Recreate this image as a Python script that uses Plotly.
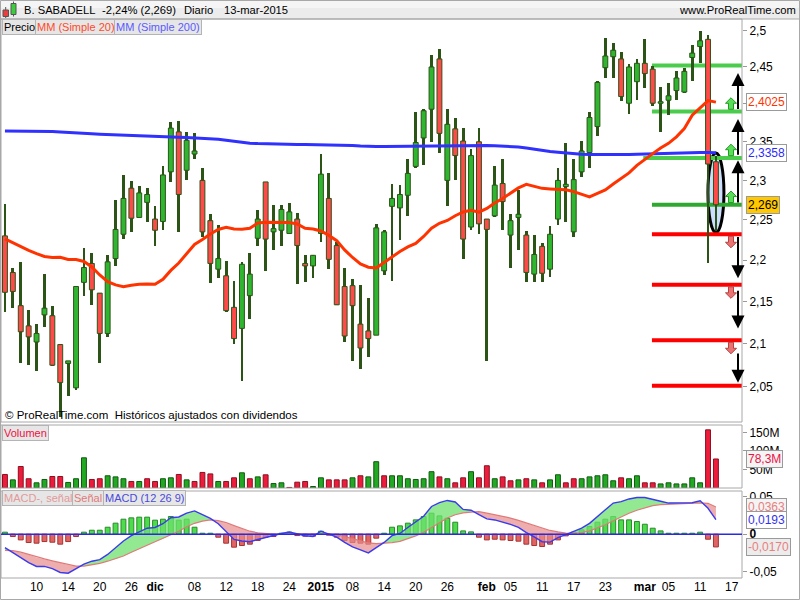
import math
import plotly.graph_objects as go

FONT = "Liberation Sans, Arial, sans-serif"

# ---------------- data ----------------
n_bars = 91
x_idx = list(range(n_bars))          # trading days 4-nov-2014 .. 13-mar-2015
tick_pos = [4, 8, 12, 16, 19, 24, 28, 32, 36, 40, 44, 48, 52, 56, 61, 64, 68, 72, 76, 81, 84, 88, 92]
tick_text = ["10", "14", "20", "26", "<b>dic</b>", "08", "12", "18", "24", "<b>2015</b>", "08", "14",
             "20", "26", "<b>feb</b>", "05", "11", "17", "23", "<b>mar</b>", "05", "11", "17"]

opens = [
    2.230, 2.185, 2.145, 2.121, 2.102, 2.134, 2.133, 2.099, 2.077, 2.049,
    2.173, 2.196, 2.160, 2.112, 2.202, 2.232, 2.290, 2.253, 2.272, 2.251,
    2.248, 2.311, 2.363, 2.313, 2.334, 2.300, 2.249, 2.189, 2.181, 2.143,
    2.118, 2.157, 2.227, 2.298, 2.235, 2.237, 2.233, 2.251, 2.196, 2.193,
    2.233, 2.277, 2.218, 2.168, 2.169, 2.123, 2.115, 2.110, 2.187, 2.267,
    2.265, 2.281, 2.318, 2.355, 2.393, 2.461, 2.300, 2.367, 2.351, 2.241,
    2.350, 2.251, 2.255, 2.296, 2.231, 2.253, 2.231, 2.183, 2.217, 2.189,
    2.251, 2.292, 2.235, 2.311, 2.336, 2.370, 2.449, 2.464, 2.461, 2.401,
    2.430, 2.455, 2.447, 2.401, 2.405, 2.418, 2.416, 2.463, 2.478, 2.488,
    2.324]
highs = [
    2.270, 2.190, 2.198, 2.140, 2.123, 2.183, 2.145, 2.100, 2.080, 2.169,
    2.215, 2.209, 2.160, 2.206, 2.275, 2.307, 2.299, 2.293, 2.290, 2.267,
    2.319, 2.376, 2.377, 2.363, 2.361, 2.316, 2.257, 2.243, 2.199, 2.175,
    2.198, 2.209, 2.262, 2.298, 2.269, 2.269, 2.271, 2.259, 2.206, 2.206,
    2.334, 2.309, 2.223, 2.190, 2.177, 2.170, 2.154, 2.245, 2.237, 2.296,
    2.294, 2.328, 2.389, 2.393, 2.466, 2.475, 2.393, 2.382, 2.368, 2.340,
    2.368, 2.251, 2.318, 2.327, 2.257, 2.288, 2.236, 2.231, 2.221, 2.242,
    2.316, 2.348, 2.327, 2.351, 2.389, 2.431, 2.490, 2.483, 2.470, 2.454,
    2.461, 2.488, 2.451, 2.423, 2.428, 2.444, 2.448, 2.480, 2.499, 2.494,
    2.332]
lows = [
    2.137, 2.142, 2.077, 2.075, 2.068, 2.120, 2.074, 2.016, 2.040, 2.046,
    2.157, 2.146, 2.077, 2.108, 2.193, 2.226, 2.235, 2.253, 2.247, 2.217,
    2.237, 2.298, 2.235, 2.300, 2.327, 2.229, 2.172, 2.178, 2.138, 2.100,
    2.057, 2.129, 2.217, 2.187, 2.212, 2.217, 2.233, 2.171, 2.174, 2.178,
    2.223, 2.189, 2.146, 2.102, 2.080, 2.071, 2.085, 2.110, 2.182, 2.175,
    2.225, 2.255, 2.316, 2.320, 2.350, 2.335, 2.267, 2.300, 2.202, 2.237,
    2.232, 2.080, 2.254, 2.237, 2.191, 2.213, 2.173, 2.173, 2.173, 2.179,
    2.244, 2.247, 2.229, 2.304, 2.316, 2.357, 2.435, 2.435, 2.404, 2.386,
    2.405, 2.422, 2.397, 2.363, 2.385, 2.405, 2.415, 2.431, 2.455, 2.196,
    2.236]
closes = [
    2.161, 2.162, 2.114, 2.108, 2.112, 2.142, 2.075, 2.055, 2.080, 2.168,
    2.191, 2.164, 2.112, 2.198, 2.238, 2.277, 2.252, 2.284, 2.282, 2.237,
    2.307, 2.368, 2.282, 2.352, 2.338, 2.235, 2.196, 2.202, 2.139, 2.106,
    2.195, 2.183, 2.251, 2.226, 2.239, 2.263, 2.260, 2.218, 2.193, 2.206,
    2.308, 2.201, 2.146, 2.109, 2.145, 2.095, 2.106, 2.240, 2.235, 2.277,
    2.282, 2.309, 2.349, 2.391, 2.450, 2.361, 2.373, 2.332, 2.226, 2.332,
    2.245, 2.238, 2.294, 2.273, 2.249, 2.257, 2.185, 2.207, 2.184, 2.232,
    2.300, 2.295, 2.301, 2.338, 2.382, 2.429, 2.465, 2.473, 2.410, 2.450,
    2.455, 2.441, 2.401, 2.403, 2.411, 2.435, 2.444, 2.469, 2.486, 2.321,
    2.269]
ma20 = [
    2.2262, 2.2213, 2.2163, 2.2120, 2.2080, 2.2046, 2.2032, 2.2036, 2.2009, 2.2009,
    2.1984, 2.1917, 2.1820, 2.1739, 2.1699, 2.1678, 2.1695, 2.1708, 2.1711, 2.1708,
    2.1768, 2.1875, 2.1966, 2.2077, 2.2194, 2.2254, 2.2324, 2.2380, 2.2407, 2.2386,
    2.2382, 2.2395, 2.2460, 2.2469, 2.2469, 2.2469, 2.2467, 2.2448, 2.2395, 2.2386,
    2.2361, 2.2306, 2.2241, 2.2126, 2.2033, 2.1954, 2.1914, 2.1905, 2.1972, 2.2046,
    2.2107, 2.2163, 2.2207, 2.2293, 2.2395, 2.2457, 2.2492, 2.2552, 2.2599, 2.2621,
    2.2596, 2.2643, 2.2713, 2.2770, 2.2840, 2.2904, 2.2950, 2.2920, 2.2898, 2.2891,
    2.2888, 2.2881, 2.2857, 2.2819, 2.2790, 2.2834, 2.2879, 2.2954, 2.3025, 2.3096,
    2.3194, 2.3273, 2.3345, 2.3418, 2.3480, 2.3565, 2.3673, 2.3850, 2.3946, 2.4045,
    2.4025]
ma200 = [
    2.3643, 2.3643, 2.3643, 2.3643, 2.3643, 2.3638, 2.3634, 2.3630, 2.3626, 2.3620,
    2.3613, 2.3606, 2.3600, 2.3595, 2.3590, 2.3585, 2.3580, 2.3575, 2.3570, 2.3565,
    2.3560, 2.3560, 2.3558, 2.3556, 2.3552, 2.3546, 2.3540, 2.3532, 2.3520, 2.3506,
    2.3492, 2.3482, 2.3476, 2.3472, 2.3469, 2.3467, 2.3466, 2.3465, 2.3464, 2.3463,
    2.3462, 2.3461, 2.3460, 2.3457, 2.3452, 2.3445, 2.3439, 2.3437, 2.3437, 2.3438,
    2.3439, 2.3440, 2.3441, 2.3443, 2.3445, 2.3448, 2.3451, 2.3454, 2.3455, 2.3455,
    2.3452, 2.3450, 2.3448, 2.3445, 2.3440, 2.3432, 2.3418, 2.3400, 2.3385, 2.3372,
    2.3362, 2.3352, 2.3345, 2.3338, 2.3334, 2.3332, 2.3331, 2.3330, 2.3331, 2.3333,
    2.3336, 2.3340, 2.3344, 2.3348, 2.3351, 2.3354, 2.3356, 2.3358, 2.3359, 2.3359,
    2.3358]
volume_m = [
    36.5, 22, 58, 25, 14, 23, 31, 31, 15, 25,
    81.5, 23, 25, 33, 30, 25, 17.6, 17.6, 25, 17.6,
    25, 27.5, 36.5, 22, 17.6, 42, 38, 17.6, 17.6, 27.5,
    41, 25, 30, 35.6, 12, 14, 1.5, 15.7, 17.6, 4,
    27.5, 22, 22, 22, 27.5, 33, 30, 71, 33, 33,
    33, 25, 23, 25, 44, 30, 25, 14, 27.5, 44,
    27.5, 60, 25, 30, 19.5, 22, 25, 22, 14, 22,
    35.7, 14, 25, 25, 30, 33, 35.7, 19.5, 27.5, 25,
    33, 14, 14, 11, 14, 11, 11, 27.5, 14, 157,
    78.3]
vol_dir = ("dudduudduu" "udduuududd" "uududddudd" "ududuudddu" "uddduduudu"
           "uuuuududdu" "dduddududu" "udduuuuudu" "udduuuuuudd")
macd = [
    -0.018, -0.025, -0.031, -0.038, -0.043, -0.043, -0.046, -0.051, -0.052, -0.046,
    -0.040, -0.036, -0.034, -0.027, -0.018, -0.009, -0.002, 0.003, 0.008, 0.009,
    0.014, 0.022, 0.023, 0.028, 0.031, 0.026, 0.021, 0.014, 0.004, -0.007,
    -0.009, -0.010, -0.007, -0.004, -0.002, 0.001, 0.003, 0.000, -0.002, -0.003,
    0.004, 0.000, -0.004, -0.011, -0.017, -0.021, -0.025, -0.018, -0.011, -0.002,
    0.001, 0.009, 0.017, 0.024, 0.037, 0.042, 0.045, 0.043, 0.033, 0.032,
    0.026, 0.0205, 0.019, 0.0165, 0.013, 0.009, 0.002, -0.0035, -0.010, -0.0105,
    -0.0045, -0.0005, 0.0035, 0.008, 0.0145, 0.024, 0.0325, 0.0415, 0.0435, 0.047,
    0.049, 0.049, 0.046, 0.044, 0.0415, 0.0415, 0.0415, 0.042, 0.0445, 0.0345,
    0.0193]
signal = [
    -0.0215, -0.022, -0.024, -0.027, -0.031, -0.033, -0.0355, -0.038, -0.041, -0.0425,
    -0.0425, -0.041, -0.039, -0.036, -0.033, -0.029, -0.024, -0.0195, -0.015, -0.010,
    -0.006, -0.0015, 0.004, 0.010, 0.0145, 0.0175, 0.019, 0.018, 0.0155, 0.0115,
    0.0075, 0.004, 0.0018, 0.0006, 0.0, 0.0, 0.0004, 0.0008, 0.0005, 0.0,
    0.0004, 0.0006, -0.0005, -0.0027, -0.0058, -0.0088, -0.0115, -0.0125, -0.0123, -0.0112,
    -0.0095, -0.006, -0.0022, 0.0025, 0.0085, 0.0155, 0.0215, 0.026, 0.0285, 0.0295,
    0.030, 0.028, 0.026, 0.024, 0.0215, 0.0185, 0.015, 0.0115, 0.008, 0.005,
    0.003, 0.0015, 0.001, 0.002, 0.0045, 0.008, 0.0125, 0.018, 0.0235, 0.028,
    0.032, 0.0355, 0.038, 0.0395, 0.040, 0.0402, 0.0403, 0.0408, 0.0418, 0.0412,
    0.0363]
hist = [
    0.0027, -0.0031, -0.0076, -0.0111, -0.0120, -0.0098, -0.0107, -0.0133, -0.0098, -0.0031,
    0.0027, 0.0053, 0.0053, 0.0093, 0.0147, 0.0200, 0.0218, 0.0227, 0.0227, 0.0187,
    0.0200, 0.0236, 0.0187, 0.0200, 0.0093, 0.0013, 0.0013, -0.0040, -0.0120, -0.0173,
    -0.0151, -0.0133, -0.0084, -0.0040, -0.0031, 0.0013, 0.0027, -0.0018, -0.0027, -0.0027,
    0.0040, -0.0013, -0.0040, -0.0084, -0.0111, -0.0120, -0.0133, -0.0053, 0.0013, 0.0093,
    0.0111, 0.0147, 0.0191, 0.0236, 0.0280, 0.0244, 0.0213, 0.0160, 0.0044, 0.0031,
    -0.0040, -0.0076, -0.0067, -0.0076, -0.0084, -0.0093, -0.0133, -0.0151, -0.0164, -0.0133,
    -0.0076, -0.0022, 0.0027, 0.0058, 0.0102, 0.0160, 0.0200, 0.0236, 0.0191, 0.0191,
    0.0169, 0.0133, 0.0080, 0.0044, 0.0013, 0.0013, 0.0013, 0.0013, 0.0027, -0.0067,
    -0.0170]

levels_up = [2.452, 2.390, 2.329, 2.269]        # green support/resistance lines
levels_down = [2.232, 2.170, 2.104, 2.0515]     # red lines
price_ticks = [2.05, 2.1, 2.15, 2.2, 2.25, 2.3, 2.35, 2.4, 2.45, 2.5]
price_tick_text = ["2,05", "2,1", "2,15", "2,2", "2,25", "2,3", "2,35", "2,4", "2,45", "2,5"]
vol_ticks = [50e6, 100e6, 150e6]
vol_tick_text = ["50M", "100M", "150M"]
macd_ticks = [-0.05, 0, 0.05]
macd_tick_text = ["-0,05", "<b>0</b>", "0,05"]

# ---------------- geometry ----------------
W, H = 800, 600
L, R, T, B = 1, 742, 19, 578
PW, PH = R - L, B - T


def pxp(px):
    return (px - L) / PW


def pyp(py):
    return (B - py) / PH


price_dom = [pyp(422), 1.0]
vol_dom = [pyp(488), pyp(425)]
macd_dom = [0.0, pyp(491)]
x_rng = [-0.5, 93.3]
p_rng = [0.30328, 0.40077]
v_rng = [0, 170e6]
m_rng = [-0.0584, 0.0576]


def xpap(i):
    return (i - x_rng[0]) / (x_rng[1] - x_rng[0])


def yprice(v):
    return price_dom[0] + (math.log10(v) - p_rng[0]) / (p_rng[1] - p_rng[0]) * (price_dom[1] - price_dom[0])


def yvol(v):
    return vol_dom[0] + (v - v_rng[0]) / (v_rng[1] - v_rng[0]) * (vol_dom[1] - vol_dom[0])


def ymacd(v):
    return macd_dom[0] + (v - m_rng[0]) / (m_rng[1] - m_rng[0]) * (macd_dom[1] - macd_dom[0])


def fmt(v, nd):
    return f"{v:.{nd}f}".replace(".", ",")


WICK = "#2b5416"
UPF, DNF = "#2fb52f", "#ff4a4a"

fig = go.Figure()

# candles: wicks then bodies
fig.add_trace(go.Bar(x=x_idx, y=[h - l for h, l in zip(highs, lows)], base=lows, width=0.36,
                     marker=dict(color=WICK, line=dict(width=0)), hoverinfo="skip",
                     xaxis="x", yaxis="y"))
fig.add_trace(go.Bar(x=x_idx, y=[max(abs(c - o), 0.0007) for o, c in zip(opens, closes)],
                     base=[min(o, c) for o, c in zip(opens, closes)], width=0.62,
                     marker=dict(color=[UPF if c >= o else DNF for o, c in zip(opens, closes)],
                                 line=dict(color=WICK, width=1)),
                     hoverinfo="skip", xaxis="x", yaxis="y"))
fig.add_trace(go.Scatter(x=x_idx, y=ma200, mode="lines", line=dict(color="#3030ff", width=3),
                         hoverinfo="skip", xaxis="x", yaxis="y"))
fig.add_trace(go.Scatter(x=x_idx, y=ma20, mode="lines", line=dict(color="#ff3300", width=3),
                         hoverinfo="skip", xaxis="x", yaxis="y"))

# volume
fig.add_trace(go.Bar(x=x_idx, y=[v * 1e6 for v in volume_m], width=0.62,
                     marker=dict(color=["#22a822" if d == "u" else "#ee1c3c" for d in vol_dir],
                                 line=dict(color=["#0e5a0e" if d == "u" else "#8a0f1f" for d in vol_dir], width=1)),
                     hoverinfo="skip", xaxis="x", yaxis="y2"))

# MACD histogram
fig.add_trace(go.Bar(x=x_idx, y=hist, width=0.62,
                     marker=dict(color=["#4cdc4c" if h >= 0 else "#e06464" for h in hist],
                                 line=dict(color=["#2a8a2a" if h >= 0 else "#a83232" for h in hist], width=1)),
                     hoverinfo="skip", xaxis="x", yaxis="y3"))

# fill between MACD and signal, split at crossings
pos_x, pos_y, neg_x, neg_y = [], [], [], []
seg_x, seg_a, seg_b = [x_idx[0]], [macd[0]], [signal[0]]
sign = macd[0] >= signal[0]


def flush(sx, sa, sb, sg):
    xs = sx + sx[::-1]
    ys = sa + sb[::-1]
    if sg:
        pos_x.extend(xs + [None]); pos_y.extend(ys + [None])
    else:
        neg_x.extend(xs + [None]); neg_y.extend(ys + [None])


for i in range(1, n_bars):
    d0 = macd[i - 1] - signal[i - 1]
    d1 = macd[i] - signal[i]
    s1 = d1 >= 0
    if s1 != sign:
        t = d0 / (d0 - d1)
        xc = x_idx[i - 1] + t
        yc = macd[i - 1] + t * (macd[i] - macd[i - 1])
        seg_x.append(xc); seg_a.append(yc); seg_b.append(yc)
        flush(seg_x, seg_a, seg_b, sign)
        seg_x, seg_a, seg_b = [xc], [yc], [yc]
        sign = s1
    seg_x.append(x_idx[i]); seg_a.append(macd[i]); seg_b.append(signal[i])
flush(seg_x, seg_a, seg_b, sign)

fig.add_trace(go.Scatter(x=pos_x, y=pos_y, mode="lines", fill="toself", fillcolor="rgba(110,225,110,0.75)",
                         line=dict(width=0), hoverinfo="skip", xaxis="x", yaxis="y3"))
fig.add_trace(go.Scatter(x=neg_x, y=neg_y, mode="lines", fill="toself", fillcolor="rgba(232,140,140,0.7)",
                         line=dict(width=0), hoverinfo="skip", xaxis="x", yaxis="y3"))
fig.add_trace(go.Scatter(x=x_idx, y=signal, mode="lines", line=dict(color="#e07a7a", width=1.2),
                         hoverinfo="skip", xaxis="x", yaxis="y3"))
fig.add_trace(go.Scatter(x=x_idx, y=macd, mode="lines", line=dict(color="#3a3af0", width=1.4),
                         hoverinfo="skip", xaxis="x", yaxis="y3"))

# ---------------- shapes ----------------
shapes = []
# header bar
shapes.append(dict(type="rect", xref="paper", yref="paper", x0=pxp(0), x1=pxp(800), y0=pyp(19), y1=pyp(0),
                   fillcolor="#ececec", line=dict(width=0), layer="below"))
shapes.append(dict(type="rect", xref="paper", yref="paper", x0=pxp(0), x1=pxp(800), y0=pyp(8), y1=pyp(0),
                   fillcolor="#f5f5f5", line=dict(width=0), layer="below"))
shapes.append(dict(type="line", xref="paper", yref="paper", x0=pxp(0), x1=pxp(800), y0=pyp(19), y1=pyp(19),
                   line=dict(color="#a8a8a8", width=1)))
shapes.append(dict(type="rect", xref="paper", yref="paper", x0=pxp(0.5), x1=pxp(799.5), y0=pyp(599.5), y1=pyp(0.5),
                   line=dict(color="#a8a8a8", width=1)))
# header icon
shapes.append(dict(type="line", xref="paper", yref="paper", x0=pxp(5.7), x1=pxp(5.7), y0=pyp(18), y1=pyp(7),
                   line=dict(color="#555", width=1)))
shapes.append(dict(type="rect", xref="paper", yref="paper", x0=pxp(3), x1=pxp(8.5), y0=pyp(16.5), y1=pyp(10),
                   fillcolor="#e84040", line=dict(color="#555", width=1)))
shapes.append(dict(type="line", xref="paper", yref="paper", x0=pxp(13.5), x1=pxp(13.5), y0=pyp(16.5), y1=pyp(1.5),
                   line=dict(color="#555", width=1)))
shapes.append(dict(type="rect", xref="paper", yref="paper", x0=pxp(11), x1=pxp(16), y0=pyp(14.5), y1=pyp(3.5),
                   fillcolor="#3ccc3c", line=dict(color="#555", width=1)))
# panel frames
for dom in (price_dom, vol_dom, macd_dom):
    shapes.append(dict(type="rect", xref="paper", yref="paper", x0=0, x1=1, y0=dom[0], y1=dom[1],
                       line=dict(color="#a8a8a8", width=1)))
# MACD zero line
shapes.append(dict(type="line", xref="paper", yref="paper", x0=0, x1=1, y0=ymacd(0), y1=ymacd(0),
                   line=dict(color="#2a2ae0", width=1.5)))
# ellipse around last candle
shapes.append(dict(type="circle", xref="paper", yref="paper",
                   x0=xpap(n_bars - 1) - 8 / PW, x1=xpap(n_bars - 1) + 8 / PW,
                   y0=yprice(lows[-1]) - 1.5 / PH, y1=yprice(highs[-1]) + 2.5 / PH,
                   fillcolor="rgba(200,220,255,0.9)", line=dict(color="black", width=3), layer="below"))
# level lines
up_start = [81.9, 81.9, 80.8, 81.9]
up_cols = ["#4ccc4c", "#4ccc4c", "#4ccc4c", "#2fa82f"]
for lv, xs, col in zip(levels_up, up_start, up_cols):
    shapes.append(dict(type="line", xref="paper", yref="paper", x0=xpap(xs), x1=1, y0=yprice(lv), y1=yprice(lv),
                       line=dict(color=col, width=4), layer="below"))
for lv in levels_down:
    shapes.append(dict(type="line", xref="paper", yref="paper", x0=xpap(81.9), x1=1, y0=yprice(lv), y1=yprice(lv),
                       line=dict(color="#ff0000", width=4), layer="below"))


def block_arrow(cx, base_y, up, fill, edge):
    pts = [(-2.5, 0), (2.5, 0), (2.5, 6), (5.5, 6), (0, 11.5), (-5.5, 6), (-2.5, 6)]
    sg = 1 if up else -1
    path = "M " + " L ".join(f"{pxp(cx + dx):.5f},{base_y + sg * dy / PH:.5f}" for dx, dy in pts) + " Z"
    return dict(type="path", xref="paper", yref="paper", path=path, fillcolor=fill, line=dict(color=edge, width=1))


for lv in levels_up[1:]:
    shapes.append(block_arrow(731, yprice(lv) + 2.2 / PH, True, "#5ade5a", "#239a23"))
for lv in levels_down[:3]:
    shapes.append(block_arrow(731, yprice(lv) - 2.0 / PH, False, "#e87474", "#b54040"))

# ---------------- annotations ----------------
ann = []


def text_ann(x_px, y_px, text, size=11, color="black", anchor="left", **kw):
    d = dict(xref="paper", yref="paper", x=pxp(x_px), y=pyp(y_px), text=text, showarrow=False,
             xanchor=anchor, yanchor="middle", font=dict(family=FONT, size=size, color=color))
    d.update(kw)
    return d


ann.append(text_ann(22, 10, "B. SABADELL", size=11.2))
ann.append(text_ann(100, 10, "-2,24% (2,269)", size=11.2))
ann.append(text_ann(182, 10, "Diario", size=11.2))
ann.append(text_ann(222, 10, "13-mar-2015", size=11.2))
ann.append(text_ann(798, 10, "www.ProRealTime.com", size=11.2, anchor="right"))

box = dict(bgcolor="#e6e6e6", bordercolor="#b4b4b4", borderwidth=1, borderpad=1)
ann.append(text_ann(2, 27, "Precio", **box))
ann.append(text_ann(35, 27, "MM (Simple 20)", color="#ff4a2a", **box))
ann.append(text_ann(114, 27, "MM (Simple 200)", color="#5a5aff", **box))
ann.append(text_ann(2, 433, "Volumen", color="#ee1144", **box))
ann.append(text_ann(2, 498, "MACD-, señal", color="#e29a9a", **box))
ann.append(text_ann(72, 498, "Señal", color="#e07a7a", **box))
ann.append(text_ann(103, 498, "MACD (12 26 9)", color="#4a4adc", **box))
ann.append(text_ann(3, 415, "© ProRealTime.com  Históricos ajustados con dividendos", size=11.5))


def side_label(ypaper, text, color, bg):
    return dict(xref="paper", yref="paper", x=1, y=ypaper, xanchor="left", yanchor="middle", xshift=4,
                text=text, showarrow=False, font=dict(family=FONT, size=12, color=color),
                bgcolor=bg, bordercolor="#9a9a9a", borderwidth=1, borderpad=1)


ann.append(side_label(yprice(ma20[-1]), fmt(ma20[-1], 4), "#ff3300", "white"))
ann.append(side_label(yprice(ma200[-1]), fmt(ma200[-1], 4), "#2a2aff", "white"))
ann.append(side_label(yprice(closes[-1]), fmt(closes[-1], 3), "black", "#ffc800"))
ann.append(side_label(yvol(volume_m[-1] * 1e6), fmt(volume_m[-1], 1) + "M", "#ee1144", "#f4f4f4"))
ann.append(side_label(ymacd(signal[-1]), fmt(signal[-1], 4), "#e88080", "#f4f4f4"))
ann.append(side_label(ymacd(macd[-1]), fmt(macd[-1], 4), "#3333ee", "white"))
ann.append(side_label(ymacd(hist[-1]), fmt(hist[-1], 4), "#e88080", "#ececec"))

# black arrows between levels
up_head_gap = [7.6, 7.6, 2.4]
up_tail_gap = [1.0, 1.6, 0.7]
for k in range(3):
    hy = yprice(levels_up[k]) - up_head_gap[k] / PH
    ty = yprice(levels_up[k + 1]) + up_tail_gap[k] / PH
    ann.append(dict(xref="paper", yref="paper", x=pxp(738), y=hy, ax=0, ay=(hy - ty) * PH,
                    axref="pixel", ayref="pixel", text="", showarrow=True, arrowhead=2, arrowsize=1.3,
                    arrowwidth=2, arrowcolor="black", standoff=0, startstandoff=0))
down_tail_gap = [1.3, 4.3, 11.7]
down_head_gap = [6.7, 11.7, 3.0]
for k in range(3):
    ty = yprice(levels_down[k]) - down_tail_gap[k] / PH
    hy = yprice(levels_down[k + 1]) + down_head_gap[k] / PH
    ann.append(dict(xref="paper", yref="paper", x=pxp(738), y=hy, ax=0, ay=(hy - ty) * PH,
                    axref="pixel", ayref="pixel", text="", showarrow=True, arrowhead=2, arrowsize=1.3,
                    arrowwidth=2, arrowcolor="black", standoff=0, startstandoff=0))

tickfont = dict(family=FONT, size=12, color="black")
fig.update_layout(
    width=W, height=H, autosize=False,
    margin=dict(l=L, r=W - R, t=T, b=H - B, pad=0),
    paper_bgcolor="white", plot_bgcolor="white",
    barmode="overlay", showlegend=False, bargap=0,
    font=dict(family=FONT, size=12, color="black"),
    xaxis=dict(domain=[0, 1], range=x_rng, anchor="y3", tickmode="array", tickvals=tick_pos,
               ticktext=tick_text, showgrid=False, zeroline=False, showline=False, ticks="",
               tickfont=tickfont, fixedrange=True),
    yaxis=dict(domain=price_dom, type="log", range=p_rng, side="right", anchor="x", tickmode="array",
               tickvals=price_ticks, ticktext=price_tick_text, ticks="outside", ticklen=4,
               tickcolor="#999999", showgrid=False, zeroline=False, showline=False, tickfont=tickfont),
    yaxis2=dict(domain=vol_dom, range=v_rng, side="right", anchor="x", tickmode="array",
                tickvals=vol_ticks, ticktext=vol_tick_text, ticks="outside", ticklen=4,
                tickcolor="#999999", showgrid=False, zeroline=False, showline=False, tickfont=tickfont),
    yaxis3=dict(domain=macd_dom, range=m_rng, side="right", anchor="x", tickmode="array",
                tickvals=macd_ticks, ticktext=macd_tick_text, ticks="outside", ticklen=4,
                tickcolor="#999999", showgrid=False, zeroline=False, showline=False, tickfont=tickfont),
    shapes=shapes, annotations=ann,
)

fig.write_html("out.html", config={"displayModeBar": False, "staticPlot": True},
               post_script="document.body.style.margin='0px';")
